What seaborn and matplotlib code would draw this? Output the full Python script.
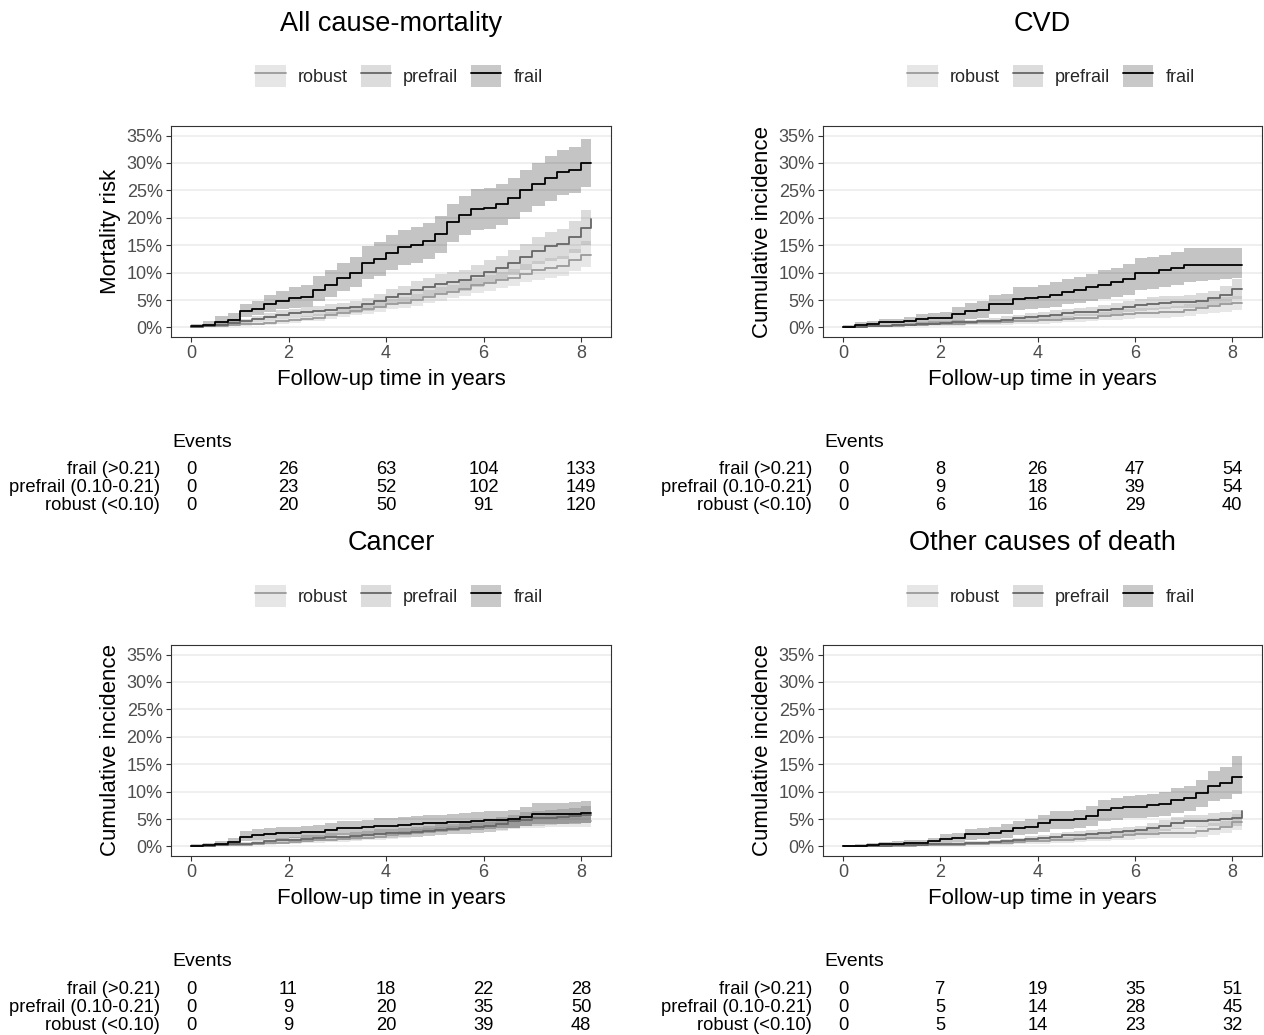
import matplotlib
matplotlib.use("Agg")
import matplotlib.pyplot as plt
import numpy as np
import pandas as pd
import seaborn as sns
from matplotlib.patches import Patch
from matplotlib.lines import Line2D
from matplotlib.transforms import blended_transform_factory
from matplotlib.ticker import FuncFormatter, FixedLocator

# ------------------------------------------------------------------ data
time_grid = [0.0, 0.25, 0.5, 0.75, 1.0, 1.25, 1.5, 1.75, 2.0, 2.25, 2.5, 2.75,
             3.0, 3.25, 3.5, 3.75, 4.0, 4.25, 4.5, 4.75, 5.0, 5.25, 5.5, 5.75,
             6.0, 6.25, 6.5, 6.75, 7.0, 7.25, 7.5, 7.75, 8.0, 8.2]
groups = ["robust", "prefrail", "frail"]
row_labels = ["frail (>0.21)", "prefrail (0.10-0.21)", "robust (<0.10)"]
event_times = [0, 2, 4, 6, 8]

# All cause-mortality (percent)
allcause_robust = [0.0, 0.2, 0.3, 0.4, 0.6, 0.7, 0.8, 1.1, 1.3, 1.6, 1.8, 2.2, 2.6, 3.0, 3.3, 3.7, 4.2, 4.5, 5.0, 5.6, 6.1, 6.5, 7.0, 7.7, 8.1, 8.6, 9.1, 9.8, 10.4, 10.8, 11.2, 12.3, 13.3, 13.3]
allcause_robust_lo = [0.0, 0.0, 0.1, 0.2, 0.3, 0.4, 0.5, 0.7, 0.8, 1.1, 1.2, 1.5, 1.9, 2.2, 2.5, 2.8, 3.3, 3.5, 3.9, 4.5, 4.9, 5.3, 5.7, 6.3, 6.7, 7.1, 7.5, 8.2, 8.7, 9.1, 9.4, 10.3, 11.0, 11.0]
allcause_robust_hi = [0.1, 0.3, 0.5, 0.6, 0.9, 1.0, 1.2, 1.5, 1.8, 2.1, 2.4, 2.9, 3.3, 3.8, 4.1, 4.6, 5.2, 5.5, 6.1, 6.8, 7.3, 7.8, 8.4, 9.1, 9.6, 10.2, 10.7, 11.5, 12.2, 12.6, 13.1, 14.3, 15.8, 15.8]
allcause_prefrail = [0.1, 0.3, 0.5, 0.8, 1.1, 1.5, 1.9, 2.3, 2.6, 2.8, 3.0, 3.2, 3.5, 3.8, 4.2, 4.8, 5.6, 6.1, 6.8, 7.3, 7.9, 8.3, 8.6, 9.3, 10.2, 10.9, 11.8, 12.9, 14.0, 14.8, 15.2, 16.5, 18.2, 19.8]
allcause_prefrail_lo = [0.0, 0.1, 0.2, 0.4, 0.6, 0.9, 1.2, 1.5, 1.8, 1.9, 2.1, 2.2, 2.5, 2.7, 3.0, 3.5, 4.2, 4.6, 5.2, 5.6, 6.1, 6.4, 6.7, 7.3, 8.1, 8.7, 9.5, 10.5, 11.5, 12.2, 12.5, 13.6, 15.0, 16.2]
allcause_prefrail_hi = [0.3, 0.5, 0.8, 1.2, 1.6, 2.1, 2.6, 3.1, 3.4, 3.7, 3.9, 4.2, 4.5, 4.9, 5.4, 6.1, 7.0, 7.6, 8.4, 9.0, 9.7, 10.2, 10.5, 11.3, 12.3, 13.1, 14.1, 15.3, 16.5, 17.4, 17.9, 19.4, 21.5, 23.5]
allcause_frail = [0.2, 0.5, 1.0, 1.3, 3.0, 3.4, 4.3, 4.8, 5.3, 5.5, 6.8, 7.8, 9.0, 10.0, 11.8, 12.4, 13.6, 14.6, 15.1, 15.8, 17.0, 19.2, 20.5, 21.6, 21.8, 22.5, 23.6, 25.0, 26.2, 27.3, 28.4, 28.8, 30.0, 30.0]
allcause_frail_lo = [0.0, 0.1, 0.4, 0.6, 1.9, 2.2, 2.9, 3.3, 3.6, 3.8, 4.8, 5.6, 6.6, 7.4, 8.9, 9.4, 10.4, 11.3, 11.8, 12.4, 13.5, 15.5, 16.8, 17.8, 18.0, 18.7, 19.7, 21.0, 22.1, 23.1, 24.2, 24.6, 25.6, 25.6]
allcause_frail_hi = [0.6, 1.2, 2.0, 2.6, 4.3, 4.9, 6.0, 6.6, 7.3, 7.7, 9.3, 10.4, 11.8, 12.9, 14.9, 15.6, 16.9, 17.8, 18.3, 19.0, 20.3, 22.6, 24.0, 25.2, 25.5, 26.2, 27.3, 28.8, 30.0, 31.2, 32.4, 33.0, 34.4, 34.4]

# CVD
cvd_robust = [0.0, 0.1, 0.2, 0.3, 0.3, 0.4, 0.5, 0.6, 0.6, 0.7, 0.8, 0.9, 0.9, 1.0, 1.1, 1.2, 1.3, 1.4, 1.5, 1.7, 1.8, 2.1, 2.3, 2.5, 2.6, 2.7, 2.8, 2.9, 3.2, 3.6, 3.9, 4.2, 4.4, 4.4]
cvd_robust_lo = [0.0, 0.0, 0.1, 0.1, 0.1, 0.2, 0.2, 0.3, 0.3, 0.3, 0.4, 0.5, 0.5, 0.5, 0.6, 0.7, 0.7, 0.8, 0.9, 1.0, 1.1, 1.3, 1.4, 1.6, 1.7, 1.8, 1.8, 1.9, 2.1, 2.4, 2.7, 2.9, 3.1, 3.1]
cvd_robust_hi = [0.1, 0.2, 0.4, 0.5, 0.5, 0.6, 0.8, 0.9, 0.9, 1.1, 1.2, 1.3, 1.3, 1.5, 1.6, 1.7, 1.9, 2.0, 2.1, 2.4, 2.5, 2.9, 3.2, 3.4, 3.5, 3.6, 3.8, 3.9, 4.3, 4.8, 5.1, 5.5, 5.8, 5.8]
cvd_prefrail = [0.0, 0.1, 0.2, 0.3, 0.4, 0.5, 0.6, 0.7, 0.8, 0.9, 1.0, 1.1, 1.2, 1.4, 1.7, 1.9, 2.1, 2.3, 2.6, 2.8, 2.9, 3.1, 3.4, 3.8, 4.0, 4.3, 4.5, 4.6, 4.7, 4.9, 5.3, 6.0, 7.0, 7.0]
cvd_prefrail_lo = [0.0, 0.0, 0.1, 0.1, 0.2, 0.2, 0.3, 0.4, 0.5, 0.5, 0.6, 0.7, 0.7, 0.9, 1.1, 1.3, 1.4, 1.6, 1.8, 2.0, 2.1, 2.2, 2.5, 2.8, 3.0, 3.2, 3.4, 3.5, 3.5, 3.7, 4.0, 4.5, 5.1, 5.1]
cvd_prefrail_hi = [0.1, 0.3, 0.4, 0.5, 0.7, 0.8, 0.9, 1.1, 1.2, 1.3, 1.4, 1.6, 1.7, 2.0, 2.3, 2.6, 2.8, 3.1, 3.4, 3.6, 3.8, 4.0, 4.4, 4.9, 5.1, 5.5, 5.7, 5.8, 6.0, 6.2, 6.6, 7.5, 8.9, 8.9]
cvd_frail = [0.0, 0.4, 0.6, 0.9, 0.9, 1.1, 1.5, 1.7, 1.8, 2.5, 3.0, 3.2, 4.2, 4.3, 5.2, 5.3, 5.6, 6.0, 6.5, 6.8, 7.3, 7.8, 8.3, 8.8, 9.9, 10.0, 10.4, 10.8, 11.4, 11.4, 11.4, 11.4, 11.4, 11.4]
cvd_frail_lo = [0.0, 0.0, 0.1, 0.3, 0.3, 0.4, 0.6, 0.7, 0.8, 1.2, 1.5, 1.7, 2.4, 2.5, 3.2, 3.3, 3.5, 3.8, 4.2, 4.4, 4.8, 5.2, 5.6, 6.0, 6.9, 7.0, 7.3, 7.7, 8.3, 8.5, 8.7, 8.9, 9.0, 9.0]
cvd_frail_hi = [0.5, 1.0, 1.2, 1.5, 1.6, 1.9, 2.4, 2.7, 2.9, 3.8, 4.5, 4.8, 6.0, 6.1, 7.3, 7.4, 7.7, 8.2, 8.8, 9.2, 9.8, 10.4, 10.9, 11.5, 12.7, 12.8, 13.3, 13.7, 14.4, 14.5, 14.5, 14.5, 14.5, 14.5]

# Cancer
cancer_robust = [0.0, 0.1, 0.2, 0.3, 0.3, 0.4, 0.6, 0.7, 0.8, 1.0, 1.1, 1.2, 1.3, 1.5, 1.6, 1.8, 2.0, 2.2, 2.4, 2.6, 2.8, 3.0, 3.1, 3.3, 3.5, 3.8, 4.1, 4.3, 4.5, 4.6, 4.6, 4.7, 4.7, 4.7]
cancer_robust_lo = [0.0, 0.0, 0.1, 0.1, 0.1, 0.2, 0.3, 0.4, 0.5, 0.6, 0.7, 0.8, 0.8, 1.0, 1.1, 1.2, 1.4, 1.5, 1.7, 1.9, 2.0, 2.2, 2.3, 2.4, 2.6, 2.9, 3.1, 3.3, 3.4, 3.5, 3.5, 3.6, 3.6, 3.6]
cancer_robust_hi = [0.1, 0.2, 0.4, 0.5, 0.5, 0.7, 0.9, 1.1, 1.2, 1.4, 1.6, 1.7, 1.8, 2.1, 2.2, 2.4, 2.7, 2.9, 3.2, 3.4, 3.6, 3.8, 4.0, 4.2, 4.4, 4.8, 5.1, 5.3, 5.6, 5.7, 5.7, 5.8, 5.9, 5.9]
cancer_prefrail = [0.0, 0.1, 0.2, 0.4, 0.5, 0.7, 0.9, 1.1, 1.2, 1.4, 1.5, 1.7, 1.8, 1.9, 2.1, 2.3, 2.4, 2.5, 2.7, 2.8, 3.0, 3.1, 3.3, 3.5, 3.7, 4.1, 4.6, 4.9, 5.1, 5.2, 5.4, 5.6, 5.8, 5.8]
cancer_prefrail_lo = [0.0, 0.0, 0.1, 0.2, 0.3, 0.4, 0.5, 0.6, 0.7, 0.8, 0.9, 1.1, 1.2, 1.2, 1.4, 1.5, 1.6, 1.7, 1.8, 1.9, 2.1, 2.2, 2.3, 2.5, 2.7, 3.0, 3.4, 3.7, 3.8, 3.9, 4.1, 4.2, 4.3, 4.3]
cancer_prefrail_hi = [0.1, 0.2, 0.4, 0.7, 0.8, 1.1, 1.3, 1.6, 1.7, 2.0, 2.1, 2.4, 2.5, 2.6, 2.8, 3.1, 3.2, 3.4, 3.6, 3.7, 4.0, 4.1, 4.3, 4.6, 4.8, 5.3, 5.8, 6.2, 6.4, 6.6, 6.8, 7.0, 7.3, 7.3]
cancer_frail = [0.0, 0.2, 0.4, 0.8, 1.8, 2.0, 2.3, 2.4, 2.5, 2.6, 2.7, 3.0, 3.3, 3.4, 3.5, 3.7, 3.8, 3.9, 4.0, 4.2, 4.3, 4.4, 4.5, 4.6, 4.8, 4.9, 5.0, 5.4, 6.0, 6.0, 6.0, 6.0, 6.1, 6.1]
cancer_frail_lo = [0.0, 0.0, 0.1, 0.3, 0.9, 1.1, 1.3, 1.4, 1.5, 1.5, 1.6, 1.8, 2.0, 2.1, 2.2, 2.3, 2.4, 2.5, 2.6, 2.7, 2.8, 2.9, 3.0, 3.0, 3.2, 3.3, 3.4, 3.7, 4.1, 4.1, 4.1, 4.1, 4.2, 4.2]
cancer_frail_hi = [0.4, 0.7, 1.0, 1.5, 2.8, 3.1, 3.4, 3.5, 3.6, 3.7, 3.9, 4.2, 4.6, 4.7, 4.9, 5.1, 5.2, 5.4, 5.5, 5.7, 5.8, 5.9, 6.1, 6.2, 6.4, 6.5, 6.7, 7.1, 7.9, 8.0, 8.0, 8.1, 8.2, 8.2]

# Other causes of death
other_robust = [0.0, 0.0, 0.0, 0.1, 0.1, 0.1, 0.2, 0.2, 0.3, 0.3, 0.4, 0.5, 0.6, 0.7, 0.8, 0.9, 1.0, 1.1, 1.2, 1.4, 1.5, 1.6, 1.8, 2.0, 2.2, 2.3, 2.4, 2.5, 2.5, 2.8, 3.2, 3.5, 4.5, 4.5]
other_robust_lo = [0.0, 0.0, 0.0, 0.0, 0.0, 0.0, 0.1, 0.1, 0.1, 0.1, 0.2, 0.2, 0.3, 0.3, 0.4, 0.5, 0.5, 0.6, 0.7, 0.8, 0.9, 1.0, 1.1, 1.2, 1.4, 1.5, 1.6, 1.6, 1.6, 1.8, 2.1, 2.4, 3.0, 3.0]
other_robust_hi = [0.0, 0.1, 0.1, 0.2, 0.2, 0.3, 0.4, 0.4, 0.5, 0.5, 0.7, 0.8, 0.9, 1.1, 1.2, 1.3, 1.5, 1.6, 1.7, 2.0, 2.1, 2.2, 2.5, 2.8, 3.0, 3.1, 3.2, 3.4, 3.4, 3.8, 4.3, 4.6, 6.0, 6.0]
other_prefrail = [0.0, 0.0, 0.1, 0.1, 0.2, 0.2, 0.3, 0.4, 0.5, 0.5, 0.6, 0.7, 0.8, 1.0, 1.2, 1.4, 1.6, 1.8, 2.0, 2.1, 2.3, 2.4, 2.6, 2.8, 3.0, 3.3, 3.8, 4.3, 4.6, 4.7, 4.9, 5.0, 5.1, 6.5]
other_prefrail_lo = [0.0, 0.0, 0.0, 0.0, 0.1, 0.1, 0.1, 0.2, 0.3, 0.3, 0.3, 0.4, 0.5, 0.6, 0.8, 0.9, 1.1, 1.2, 1.4, 1.4, 1.6, 1.7, 1.8, 2.0, 2.2, 2.4, 2.8, 3.2, 3.5, 3.6, 3.7, 3.7, 3.8, 4.0]
other_prefrail_hi = [0.0, 0.1, 0.2, 0.2, 0.3, 0.4, 0.5, 0.6, 0.7, 0.8, 0.9, 1.0, 1.2, 1.4, 1.6, 1.9, 2.1, 2.4, 2.6, 2.8, 3.0, 3.1, 3.4, 3.6, 3.8, 4.2, 4.8, 5.4, 5.7, 5.8, 6.1, 6.3, 6.6, 10.5]
other_frail = [0.0, 0.1, 0.3, 0.4, 0.5, 0.6, 0.7, 0.9, 1.4, 1.6, 2.2, 2.3, 2.5, 2.8, 3.3, 3.6, 4.2, 4.8, 4.8, 5.0, 5.6, 6.6, 7.0, 7.2, 7.2, 7.5, 7.8, 8.4, 8.8, 9.7, 11.0, 11.5, 12.6, 12.6]
other_frail_lo = [0.0, 0.0, 0.0, 0.1, 0.1, 0.2, 0.2, 0.3, 0.6, 0.8, 1.2, 1.3, 1.4, 1.6, 2.0, 2.3, 2.7, 3.2, 3.2, 3.4, 3.8, 4.6, 4.9, 5.1, 5.1, 5.3, 5.6, 6.1, 6.4, 7.2, 8.3, 8.7, 9.6, 9.6]
other_frail_hi = [0.2, 0.4, 0.6, 0.8, 0.9, 1.1, 1.2, 1.5, 2.2, 2.5, 3.2, 3.4, 3.6, 4.0, 4.6, 5.0, 5.7, 6.4, 6.4, 6.6, 7.3, 8.5, 8.9, 9.2, 9.3, 9.6, 9.9, 10.6, 11.1, 12.2, 13.8, 14.5, 16.5, 16.5]

# Risk tables: rows frail, prefrail, robust at years 0,2,4,6,8
allcause_events = [[0, 26, 63, 104, 133], [0, 23, 52, 102, 149], [0, 20, 50, 91, 120]]
cvd_events = [[0, 8, 26, 47, 54], [0, 9, 18, 39, 54], [0, 6, 16, 29, 40]]
cancer_events = [[0, 11, 18, 22, 28], [0, 9, 20, 35, 50], [0, 9, 20, 39, 48]]
other_events = [[0, 7, 19, 35, 51], [0, 5, 14, 28, 45], [0, 5, 14, 23, 32]]

panels = [
    dict(title="All cause-mortality", ylabel="Mortality risk",
         est=[allcause_robust, allcause_prefrail, allcause_frail],
         lo=[allcause_robust_lo, allcause_prefrail_lo, allcause_frail_lo],
         hi=[allcause_robust_hi, allcause_prefrail_hi, allcause_frail_hi],
         events=allcause_events),
    dict(title="CVD", ylabel="Cumulative incidence",
         est=[cvd_robust, cvd_prefrail, cvd_frail],
         lo=[cvd_robust_lo, cvd_prefrail_lo, cvd_frail_lo],
         hi=[cvd_robust_hi, cvd_prefrail_hi, cvd_frail_hi],
         events=cvd_events),
    dict(title="Cancer", ylabel="Cumulative incidence",
         est=[cancer_robust, cancer_prefrail, cancer_frail],
         lo=[cancer_robust_lo, cancer_prefrail_lo, cancer_frail_lo],
         hi=[cancer_robust_hi, cancer_prefrail_hi, cancer_frail_hi],
         events=cancer_events),
    dict(title="Other causes of death", ylabel="Cumulative incidence",
         est=[other_robust, other_prefrail, other_frail],
         lo=[other_robust_lo, other_prefrail_lo, other_frail_lo],
         hi=[other_robust_hi, other_prefrail_hi, other_frail_hi],
         events=other_events),
]

for p in panels:
    for arr in p["est"] + p["lo"] + p["hi"]:
        assert len(arr) == len(time_grid), (p["title"], len(arr))

# ------------------------------------------------------------------ style
line_colors = {"robust": "#9a9a9a", "prefrail": "#666666", "frail": "#000000"}
key_fill = {"robust": "#e6e6e6", "prefrail": "#dcdcdc", "frail": "#c8c8c8"}
band_alpha = 0.23

sns.set_theme(style="white")
plt.rcParams["font.family"] = ["Liberation Sans", "DejaVu Sans"]

W, H = 1264, 1035
fig = plt.figure(figsize=(W / 100, H / 100), dpi=100)
fig.patch.set_facecolor("white")

# (left, top, right, bottom) in pixels
boxes = [(171, 126, 611, 337), (823, 126, 1262, 337),
         (171, 645, 611, 856), (823, 645, 1262, 856)]
title_y = [24, 24, 543, 543]
legend_y = [76, 76, 596, 596]
legend_x = [399, 1051, 399, 1051]
events_y = [442, 442, 961, 961]
label_x = [160, 812, 160, 812]
events_x = [172, 824, 172, 824]

for p, (l, t, r, b), ty, ly, lx, ey, rx, exx in zip(
        panels, boxes, title_y, legend_y, legend_x, events_y, label_x, events_x):
    ax = fig.add_axes([l / W, 1 - b / H, (r - l) / W, (b - t) / H])
    frames = []
    for g, est, lo, hi in zip(groups, p["est"], p["lo"], p["hi"]):
        ax.fill_between(time_grid, lo, hi, step="post",
                        color=line_colors[g], alpha=band_alpha, lw=0, zorder=2)
        frames.append(pd.DataFrame({"time": time_grid, "risk": est, "group": g}))
    df = pd.concat(frames, ignore_index=True)
    sns.lineplot(data=df, x="time", y="risk", hue="group", hue_order=groups,
                 palette=line_colors, drawstyle="steps-post", estimator=None,
                 legend=False, ax=ax, lw=1.3, zorder=3)

    ax.set_xlim(-0.41, 8.61)
    ax.set_ylim(-1.75, 36.75)
    ax.xaxis.set_major_locator(FixedLocator([0, 2, 4, 6, 8]))
    ax.yaxis.set_major_locator(FixedLocator([0, 5, 10, 15, 20, 25, 30, 35]))
    ax.yaxis.set_major_formatter(FuncFormatter(lambda v, pos: f"{v:.0f}%"))
    ax.yaxis.grid(True, color="#ebebeb", lw=1.1)
    ax.xaxis.grid(False)
    ax.set_axisbelow(True)
    for s in ax.spines.values():
        s.set_color("#333333")
        s.set_linewidth(0.8)
    ax.tick_params(axis="both", which="major", length=3.5, width=0.8,
                   color="#333333", labelsize=13, labelcolor="#4d4d4d",
                   bottom=True, left=True, pad=2.5)
    ax.set_xlabel("Follow-up time in years", fontsize=16, color="black", labelpad=5)
    ax.set_ylabel(p["ylabel"], fontsize=16, color="black", labelpad=4)

    cx = (l + r) / 2 / W
    fig.text(cx, 1 - ty / H, p["title"], ha="center", va="center",
             fontsize=19.5, color="black")

    handles = [(Patch(facecolor=key_fill[g], edgecolor="none"),
                Line2D([], [], color=line_colors[g], lw=1.3)) for g in groups]
    fig.legend(handles, groups, loc="center", bbox_to_anchor=(lx / W, 1 - ly / H),
               ncol=3, frameon=False, fontsize=13, handlelength=1.67,
               handleheight=1.55, handletextpad=0.67, columnspacing=0.72,
               borderaxespad=0, borderpad=0)

    # risk table
    fig.text(exx / W, 1 - ey / H, "Events", ha="left", va="center",
             fontsize=14, color="black")
    trans = blended_transform_factory(ax.transData, fig.transFigure)
    for i, (lab, counts) in enumerate(zip(row_labels, p["events"])):
        yy = 1 - (ey + 28 + 18 * i) / H
        fig.text(rx / W, yy, lab, ha="right", va="center", fontsize=13.2,
                 color="black")
        for tx, c in zip(event_times, counts):
            fig.text(tx, yy, str(c), ha="center", va="center", fontsize=13.2,
                     color="black", transform=trans)

fig.savefig("out.png", dpi=100, facecolor="white")
